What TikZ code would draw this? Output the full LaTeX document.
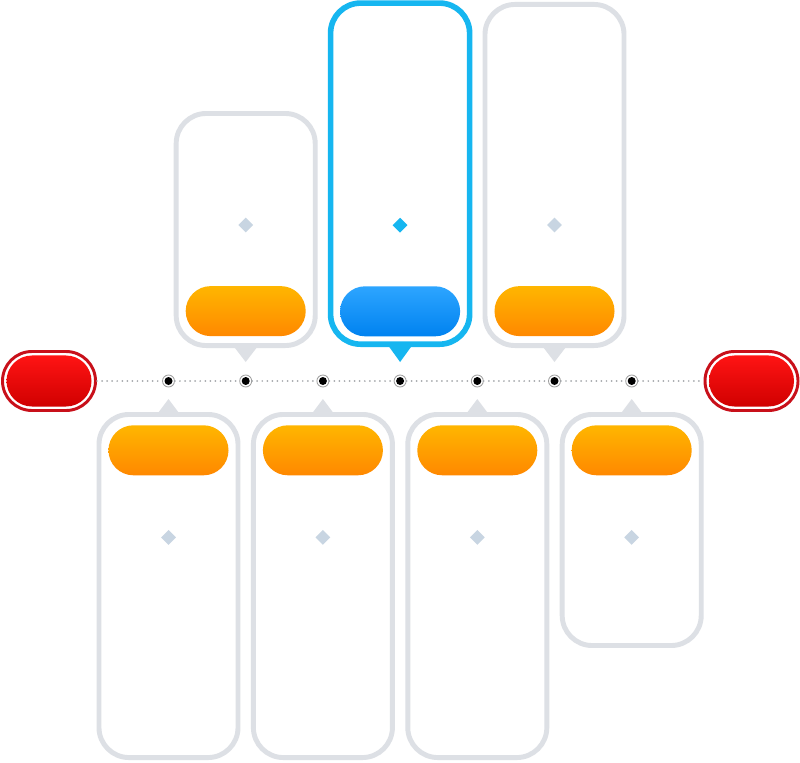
\documentclass[tikz,border=0pt]{standalone}
\usetikzlibrary{positioning,shapes.geometric}

\definecolor{cardline}{RGB}{221,224,229}
\definecolor{hilite}{RGB}{22,182,240}
\definecolor{markgray}{RGB}{200,213,226}
\definecolor{orangetop}{RGB}{255,182,0}
\definecolor{orangebot}{RGB}{255,136,0}
\definecolor{bluetop}{RGB}{45,165,255}
\definecolor{bluebot}{RGB}{0,130,240}
\definecolor{redtop}{RGB}{255,20,20}
\definecolor{redbot}{RGB}{208,0,0}
\definecolor{redrim}{RGB}{200,16,26}
\definecolor{trackgray}{RGB}{165,168,172}

\begin{document}
\begin{tikzpicture}[
  x=0.025cm, y=-0.025cm,
  card/.style={draw=cardline, line width=3.5pt, rounded corners=0.75cm, minimum width=3.475cm, inner sep=0pt},
  cardhi/.style={card, draw=hilite, line width=4pt},
  pill/.style={rounded corners=0.625cm, minimum width=3cm, minimum height=1.25cm, inner sep=0pt, top color=orangetop, bottom color=orangebot},
  pillhi/.style={pill, top color=bluetop, bottom color=bluebot},
  gem/.style={diamond, fill=markgray, minimum size=0.375cm, inner sep=0pt},
  endrim/.style={draw=redrim, line width=2.1pt, fill=white, rounded corners=0.7375cm, minimum width=2.325cm, minimum height=1.475cm, inner sep=0pt},
  endcap/.style={rounded corners=0.6375cm, minimum width=2.125cm, minimum height=1.275cm, inner sep=0pt, top color=redtop, bottom color=redbot},
  stopdot/.style={circle, draw=gray!75, line width=0.6pt, fill=white, minimum size=0.3cm, inner sep=0pt,
    path picture={\fill[black] (path picture bounding box.center) circle (0.1cm);}},
  track/.style={trackgray, line width=1.4pt, line cap=round, dash pattern=on 0pt off 3.6pt}
]
\path[fill=white, use as bounding box] (0,0) rectangle (800,762);

% the timeline
\node[endrim] (startrim) at (49,381) {};
\node[endcap] (start) at (49,381) {};
\node[endrim] (finishrim) at (751.5,381) {};
\node[endcap] (finish) at (751.5,381) {};
\node[stopdot] (d1) at (168.5,381) {};
\node[stopdot] (d2) at (245.7,381) {};
\node[stopdot] (d3) at (322.9,381) {};
\node[stopdot] (d4) at (400.1,381) {};
\node[stopdot] (d5) at (477.3,381) {};
\node[stopdot] (d6) at (554.5,381) {};
\node[stopdot] (d7) at (631.7,381) {};
\draw[track] (startrim) -- (d1) -- (d2) -- (d3) -- (d4) -- (d5) -- (d6) -- (d7) -- (finishrim);

% cards above the line
\node[card, minimum height=5.8cm, anchor=south] (u1) at (245.7,348) {};
\node[cardhi, minimum height=8.525cm, anchor=south] (u2) at (400.1,347) {};
\node[card, minimum height=8.525cm, anchor=south] (u3) at (554.5,348) {};
\fill[cardline] (u1.south) ++(-13,-3) -- ++(13,17) -- ++(13,-17) -- cycle;
\fill[hilite] (u2.south) ++(-13,-3) -- ++(13,18) -- ++(13,-18) -- cycle;
\fill[cardline] (u3.south) ++(-13,-3) -- ++(13,17) -- ++(13,-17) -- cycle;
\node[pill, above=0.29cm of u1.south] (p1) {};
\node[pillhi, above=0.26cm of u2.south] (p2) {};
\node[pill, above=0.29cm of u3.south] (p3) {};
\node[gem, above=1.325cm of p1] (m1) {};
\node[gem, fill=hilite, above=1.325cm of p2] (m2) {};
\node[gem, above=1.325cm of p3] (m3) {};

% cards below the line
\node[card, minimum height=8.575cm, anchor=north] (l1) at (168.5,412) {};
\node[card, minimum height=8.575cm, anchor=north] (l2) at (322.9,412) {};
\node[card, minimum height=8.575cm, anchor=north] (l3) at (477.3,412) {};
\node[card, minimum height=5.775cm, anchor=north] (l4) at (631.7,412) {};
\fill[cardline] (l1.north) ++(-12,3) -- ++(12,-16) -- ++(12,16) -- cycle;
\fill[cardline] (l2.north) ++(-12,3) -- ++(12,-16) -- ++(12,16) -- cycle;
\fill[cardline] (l3.north) ++(-12,3) -- ++(12,-16) -- ++(12,16) -- cycle;
\fill[cardline] (l4.north) ++(-12,3) -- ++(12,-16) -- ++(12,16) -- cycle;
\node[pill, below=0.325cm of l1.north] (q1) {};
\node[pill, below=0.325cm of l2.north] (q2) {};
\node[pill, below=0.325cm of l3.north] (q3) {};
\node[pill, below=0.325cm of l4.north] (q4) {};
\node[gem, below=1.35cm of q1] (n1) {};
\node[gem, below=1.35cm of q2] (n2) {};
\node[gem, below=1.35cm of q3] (n3) {};
\node[gem, below=1.35cm of q4] (n4) {};
\end{tikzpicture}
\end{document}
